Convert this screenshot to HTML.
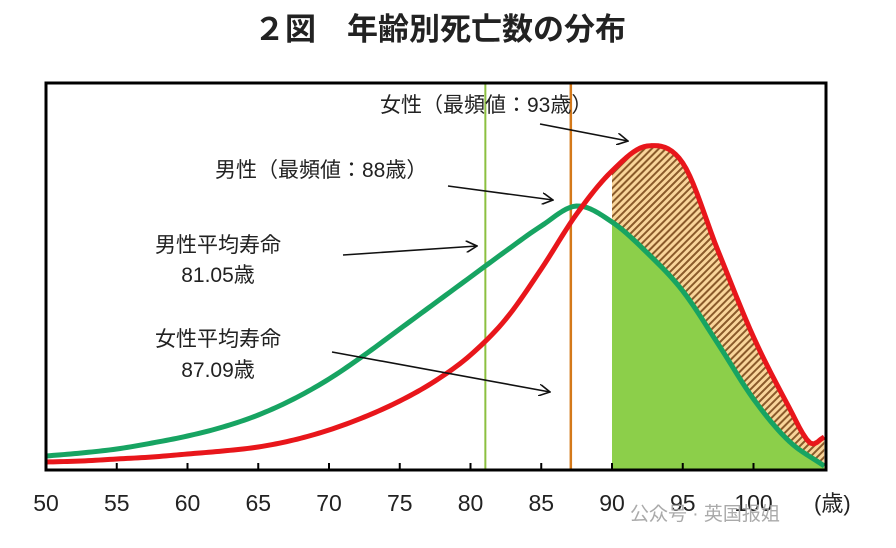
<!DOCTYPE html>
<html><head><meta charset="utf-8">
<style>
body{margin:0;background:#fff;}
svg{display:block;font-family:"Liberation Sans","Noto Sans CJK JP",sans-serif;}
</style></head>
<body>
<svg id="chart" width="896" height="548" viewBox="0 0 896 548">
<defs>
<pattern id="hatch" width="5" height="5" patternUnits="userSpaceOnUse" patternTransform="rotate(45)">
<rect width="5" height="5" fill="#f9d59a"/>
<rect width="2" height="5" fill="#8a5a2a"/>
</pattern>
<marker id="arr" markerWidth="12" markerHeight="12" refX="11" refY="6" orient="auto" markerUnits="userSpaceOnUse">
<path d="M0,0 L11,6 L0,12" fill="none" stroke="#111" stroke-width="1.6"/>
</marker>
</defs>
<text x="440" y="40" text-anchor="middle" font-size="31" font-weight="bold" fill="#222">２図　年齢別死亡数の分布</text>
<g id="plot"></g>
<rect x="46" y="83" width="780" height="387" fill="none" stroke="#000" stroke-width="3"/>
<g id="ticks"></g>
<text x="814" y="511" font-size="22" fill="#222">(歳)</text>
<text x="380" y="112" font-size="21" fill="#222">女性（最頻値：93歳）</text>
<text x="215" y="177" font-size="21" fill="#222">男性（最頻値：88歳）</text>
<text x="218" y="252" font-size="21" text-anchor="middle" fill="#222">男性平均寿命</text>
<text x="218" y="282" font-size="21" text-anchor="middle" fill="#222">81.05歳</text>
<text x="218" y="346" font-size="21" text-anchor="middle" fill="#222">女性平均寿命</text>
<text x="218" y="377" font-size="21" text-anchor="middle" fill="#222">87.09歳</text>
<line x1="540" y1="124" x2="628" y2="141" stroke="#111" stroke-width="1.6" marker-end="url(#arr)"/>
<line x1="448" y1="186" x2="553" y2="200" stroke="#111" stroke-width="1.6" marker-end="url(#arr)"/>
<line x1="343" y1="255" x2="477" y2="246" stroke="#111" stroke-width="1.6" marker-end="url(#arr)"/>
<line x1="332" y1="352" x2="550" y2="392" stroke="#111" stroke-width="1.6" marker-end="url(#arr)"/>
<text x="630" y="520" font-size="19" fill="#aaa">公众号 · 英国报姐</text>
</svg>
<script>
const ages = [50,52.5,55,57.5,60,62.5,65,67.5,70,72.5,75,77.5,80,82.5,85,87.5,90,92.5,95,97.5,100,102.5,105];
const maleValues = [13,16,20,26,33,42,54,70,90,114,140,166,192,218,243,263,247,216,178,125,70,28,3];
const femaleAges = [50,52.5,55,57.5,60,62.5,65,67.5,70,72.5,75,77.5,80,82.5,85,87.5,90,92.5,95,97.5,100,102.5,104,105];
const femaleValues = [7,8,10,12,15,18,22,29,39,52,68,88,114,150,200,255,298,323,306,218,132,62,26,32];
const tickLabels = ["50","55","60","65","70","75","80","85","90","95","100"];
const maleMeanAge = 81.05, femaleMeanAge = 87.09, shadeFrom = 90;

const NS="http://www.w3.org/2000/svg";
const x = a => 46 + (a-50)*14.15;
const y = v => 469 - v;
function interp(xs, vs, a){
  let i=0; while(i<xs.length-2 && a>xs[i+1]) i++;
  const n=xs.length-1;
  const i0=Math.max(i-1,0), i3=Math.min(i+2,n);
  const p1=[xs[i],vs[i]],p2=[xs[i+1],vs[i+1]];
  const t=(a-p1[0])/(p2[0]-p1[0]);
  const h=p2[0]-p1[0];
  const m1=(vs[i+1]-vs[i0])/(xs[i+1]-xs[i0])*h;
  const m2=(vs[i3]-vs[i])/(xs[i3]-xs[i])*h;
  const t2=t*t,t3=t2*t;
  return (2*t3-3*t2+1)*p1[1]+(t3-2*t2+t)*m1+(-2*t3+3*t2)*p2[1]+(t3-t2)*m2;
}
function pts(xs,vs,a0,a1){const r=[];for(let a=a0;a<=a1+1e-9;a+=0.25)r.push([x(a),y(interp(xs,vs,a))]);return r;}
const plot=document.getElementById('plot');
function mk(tag,attrs){const e=document.createElementNS(NS,tag);for(const k in attrs)e.setAttribute(k,attrs[k]);plot.appendChild(e);return e;}
const mP=pts(ages,maleValues,shadeFrom,105), fP=pts(femaleAges,femaleValues,shadeFrom,105);
let h=mk('path',{d:'M'+fP.map(p=>p.join(',')).join('L')+'L'+mP.slice().reverse().map(p=>p.join(',')).join('L')+'Z',fill:'url(#hatch)'});


let g=mk('path',{d:'M'+x(shadeFrom)+','+y(0)+'L'+mP.map(p=>p.join(',')).join('L')+'L'+x(105)+','+y(0)+'Z',fill:'#8ccf4a'});


let v1=mk('line',{x1:x(maleMeanAge),x2:x(maleMeanAge),y1:84,y2:469,stroke:'#8cc040','stroke-width':2});


let v2=mk('line',{x1:x(femaleMeanAge),x2:x(femaleMeanAge),y1:84,y2:469,stroke:'#d4791a','stroke-width':2.5});


let mc=mk('path',{d:'M'+pts(ages,maleValues,50,105).map(p=>p.join(',')).join('L'),fill:'none',stroke:'#17a462','stroke-width':5,'stroke-linejoin':'round'});


let fc=mk('path',{d:'M'+pts(femaleAges,femaleValues,50,105).map(p=>p.join(',')).join('L'),fill:'none',stroke:'#e8161b','stroke-width':5,'stroke-linejoin':'round'});


const tg=document.getElementById('ticks');
tickLabels.forEach((t,i)=>{
  const a=50+i*5;
  const l=document.createElementNS(NS,'line');
  l.setAttribute('x1',x(a));l.setAttribute('x2',x(a));l.setAttribute('y1',463);l.setAttribute('y2',469);
  l.setAttribute('stroke','#000');l.setAttribute('stroke-width',2);
  
  
  tg.appendChild(l);
  const tx=document.createElementNS(NS,'text');
  tx.setAttribute('x',x(a));tx.setAttribute('y',511);tx.setAttribute('text-anchor','middle');
  tx.setAttribute('font-size','23');tx.setAttribute('fill','#222');
  tx.textContent=t;
  
  
  tg.appendChild(tx);
});
</script>
</body></html>
